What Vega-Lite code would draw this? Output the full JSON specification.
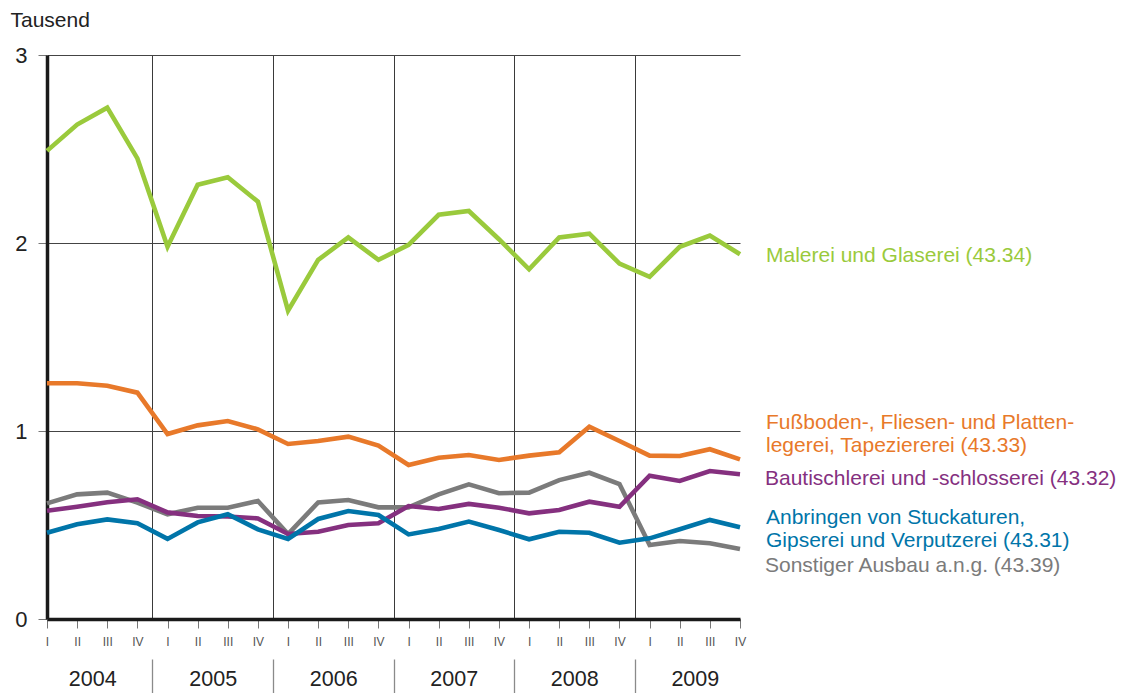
{
  "$schema": "https://vega.github.io/schema/vega-lite/v6.json",
  "autosize": "none",
  "width": 693,
  "height": 564,
  "padding": {"left": 47, "top": 55, "right": 392, "bottom": 74},
  "background": "white",
  "config": {"font": "Liberation Sans", "view": {"stroke": null}},
  "datasets": {
    "q": [
      {"i": 0, "year": 2004, "q": "I", "M": 2.49, "F": 1.254, "B": 0.576, "A": 0.459, "S": 0.615},
      {"i": 1, "year": 2004, "q": "II", "M": 2.63, "F": 1.254, "B": 0.597, "A": 0.504, "S": 0.663},
      {"i": 2, "year": 2004, "q": "III", "M": 2.72, "F": 1.241, "B": 0.621, "A": 0.53, "S": 0.672},
      {"i": 3, "year": 2004, "q": "IV", "M": 2.45, "F": 1.204, "B": 0.637, "A": 0.509, "S": 0.619},
      {"i": 4, "year": 2005, "q": "I", "M": 1.98, "F": 0.984, "B": 0.567, "A": 0.426, "S": 0.557},
      {"i": 5, "year": 2005, "q": "II", "M": 2.31, "F": 1.03, "B": 0.548, "A": 0.514, "S": 0.592},
      {"i": 6, "year": 2005, "q": "III", "M": 2.35, "F": 1.053, "B": 0.545, "A": 0.557, "S": 0.592},
      {"i": 7, "year": 2005, "q": "IV", "M": 2.22, "F": 1.009, "B": 0.535, "A": 0.477, "S": 0.628},
      {"i": 8, "year": 2006, "q": "I", "M": 1.64, "F": 0.931, "B": 0.452, "A": 0.426, "S": 0.452},
      {"i": 9, "year": 2006, "q": "II", "M": 1.91, "F": 0.947, "B": 0.464, "A": 0.532, "S": 0.62},
      {"i": 10, "year": 2006, "q": "III", "M": 2.03, "F": 0.97, "B": 0.5, "A": 0.574, "S": 0.633},
      {"i": 11, "year": 2006, "q": "IV", "M": 1.91, "F": 0.922, "B": 0.509, "A": 0.553, "S": 0.594},
      {"i": 12, "year": 2007, "q": "I", "M": 1.99, "F": 0.819, "B": 0.601, "A": 0.45, "S": 0.594},
      {"i": 13, "year": 2007, "q": "II", "M": 2.15, "F": 0.858, "B": 0.585, "A": 0.479, "S": 0.663},
      {"i": 14, "year": 2007, "q": "III", "M": 2.17, "F": 0.872, "B": 0.612, "A": 0.518, "S": 0.716},
      {"i": 15, "year": 2007, "q": "IV", "M": 2.02, "F": 0.846, "B": 0.592, "A": 0.473, "S": 0.669},
      {"i": 16, "year": 2008, "q": "I", "M": 1.86, "F": 0.869, "B": 0.562, "A": 0.424, "S": 0.672},
      {"i": 17, "year": 2008, "q": "II", "M": 2.03, "F": 0.887, "B": 0.58, "A": 0.464, "S": 0.739},
      {"i": 18, "year": 2008, "q": "III", "M": 2.05, "F": 1.023, "B": 0.624, "A": 0.459, "S": 0.778},
      {"i": 19, "year": 2008, "q": "IV", "M": 1.89, "F": 0.947, "B": 0.597, "A": 0.406, "S": 0.718},
      {"i": 20, "year": 2009, "q": "I", "M": 1.82, "F": 0.869, "B": 0.762, "A": 0.429, "S": 0.394},
      {"i": 21, "year": 2009, "q": "II", "M": 1.98, "F": 0.867, "B": 0.734, "A": 0.477, "S": 0.415},
      {"i": 22, "year": 2009, "q": "III", "M": 2.04, "F": 0.903, "B": 0.787, "A": 0.527, "S": 0.403},
      {"i": 23, "year": 2009, "q": "IV", "M": 1.94, "F": 0.849, "B": 0.77, "A": 0.488, "S": 0.372}
    ]
  },
  "data": {"name": "q"},
  "resolve": {"axis": {"x": "independent"}},
  "layer": [
    {
      "mark": {"type": "point", "opacity": 0},
      "encoding": {
        "x": {"field": "i", "type": "quantitative", "scale": {"domain": [0, 23], "nice": false, "zero": false},
          "axis": {"orient": "bottom", "values": [3.5, 7.5, 11.5, 15.5, 19.5], "grid": true, "gridColor": "#3a3a3a", "gridWidth": 1, "ticks": false, "labels": false, "domain": false, "title": null}}
      }
    },
    {
      "mark": {"type": "point", "opacity": 0},
      "encoding": {
        "x": {"field": "i", "type": "quantitative",
          "axis": {"orient": "bottom", "offset": 40, "values": [3.5, 7.5, 11.5, 15.5, 19.5], "grid": false, "ticks": true, "tickSize": 34, "tickColor": "#8a8a8a", "tickWidth": 1.3, "labels": false, "domain": false, "title": null}}
      }
    },
    {
      "mark": {"type": "point", "opacity": 0},
      "encoding": {
        "x": {"field": "i", "type": "quantitative",
          "axis": {"orient": "bottom", "values": [1.5, 5.5, 9.5, 13.5, 17.5, 21.5], "labelExpr": "'' + (2004 + floor(datum.value / 4))", "grid": false, "ticks": false, "domain": false, "labelFontSize": 21.5, "labelColor": "#222222", "labelPadding": 49, "labelFlush": false, "labelOverlap": false, "title": null}}
      }
    },
    {
      "transform": [{"fold": ["S", "B", "A", "F", "M"], "as": ["key", "value"]}],
      "mark": {"type": "line", "strokeWidth": 4.6},
      "encoding": {
        "x": {"field": "i", "type": "quantitative",
          "axis": {"orient": "bottom", "values": [0,1,2,3,4,5,6,7,8,9,10,11,12,13,14,15,16,17,18,19,20,21,22,23], "labelExpr": "['I','II','III','IV'][datum.value % 4]", "grid": false, "ticks": true, "tickSize": 9, "tickColor": "#777777", "tickWidth": 1, "domain": true, "domainColor": "#1a1a1a", "domainWidth": 3.5, "labelFontSize": 12, "labelColor": "#555555", "labelPadding": 8, "labelFlush": false, "labelOverlap": false, "title": null}},
        "y": {"field": "value", "type": "quantitative", "scale": {"domain": [0, 3], "nice": false, "zero": true},
          "axis": {"values": [0, 1, 2, 3], "format": "d", "labelExpr": "'' + round(datum.value)", "grid": true, "gridColor": "#444444", "gridWidth": 1, "ticks": true, "tickSize": 9, "tickColor": "#777777", "domain": true, "domainColor": "#1a1a1a", "domainWidth": 3.5, "labelFontSize": 22, "labelColor": "#222222", "labelPadding": 11, "title": "Tausend", "titleAngle": 0, "titleAlign": "left", "titleBaseline": "middle", "titleX": -37, "titleY": -35, "titleFontSize": 21, "titleFontWeight": "normal", "titleColor": "#222222"}},
        "color": {"field": "key", "type": "nominal", "scale": {"domain": ["M", "F", "B", "A", "S"], "range": ["#9ACA3C", "#E8792A", "#85307F", "#0075A9", "#7B7B7B"]}, "legend": null}
      }
    },
    {
      "transform": [{"filter": "datum.i == 23"}],
      "mark": {"type": "text", "text": "Malerei und Glaserei (43.34)", "align": "left", "baseline": "middle", "dx": 26, "dy": 2, "fontSize": 21, "color": "#9ACA3C"},
      "encoding": {"x": {"field": "i", "type": "quantitative", "axis": null}, "y": {"field": "M", "type": "quantitative"}}
    },
    {
      "transform": [{"filter": "datum.i == 23"}],
      "mark": {"type": "text", "text": "Fußboden-, Fliesen- und Platten-\nlegerei, Tapeziererei (43.33)", "lineBreak": "\n", "lineHeight": 23, "align": "left", "baseline": "middle", "dx": 26, "dy": -36.5, "fontSize": 21, "color": "#E8792A"},
      "encoding": {"x": {"field": "i", "type": "quantitative", "axis": null}, "y": {"field": "F", "type": "quantitative"}}
    },
    {
      "transform": [{"filter": "datum.i == 23"}],
      "mark": {"type": "text", "text": "Bautischlerei und -schlosserei (43.32)", "align": "left", "baseline": "middle", "dx": 25, "dy": 5, "fontSize": 21, "color": "#85307F"},
      "encoding": {"x": {"field": "i", "type": "quantitative", "axis": null}, "y": {"field": "B", "type": "quantitative"}}
    },
    {
      "transform": [{"filter": "datum.i == 23"}],
      "mark": {"type": "text", "text": "Anbringen von Stuckaturen,\nGipserei und Verputzerei (43.31)", "lineBreak": "\n", "lineHeight": 23, "align": "left", "baseline": "middle", "dx": 26, "dy": -9.5, "fontSize": 21, "color": "#0075A9"},
      "encoding": {"x": {"field": "i", "type": "quantitative", "axis": null}, "y": {"field": "A", "type": "quantitative"}}
    },
    {
      "transform": [{"filter": "datum.i == 23"}],
      "mark": {"type": "text", "text": "Sonstiger Ausbau a.n.g. (43.39)", "align": "left", "baseline": "middle", "dx": 25, "dy": 17, "fontSize": 21, "color": "#7B7B7B"},
      "encoding": {"x": {"field": "i", "type": "quantitative", "axis": null}, "y": {"field": "S", "type": "quantitative"}}
    }
  ]
}
